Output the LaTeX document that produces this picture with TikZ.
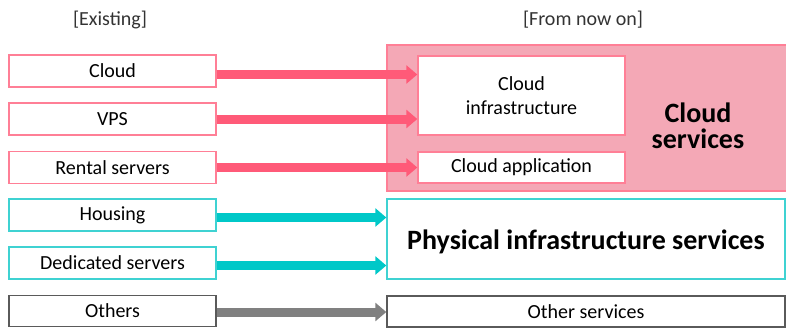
\documentclass[tikz,border=0pt]{standalone}
\usepackage{fontspec}
\setmainfont{Carlito}
\usetikzlibrary{arrows.meta}
\definecolor{pinkarrow}{HTML}{FF5A78}
\definecolor{pinkline}{HTML}{FF7F96}
\definecolor{pinkfill}{HTML}{F4A8B6}
\definecolor{cyanarrow}{HTML}{00C8C8}
\definecolor{cyanline}{HTML}{3FD2D2}
\definecolor{grayarrow}{HTML}{808080}
\definecolor{grayline}{HTML}{5A5A5A}
\definecolor{headtext}{HTML}{333333}
\tikzset{
  oldbox/.style={draw=#1, line width=1.4pt, fill=white, minimum width=207pt, minimum height=32pt, inner sep=0pt, font=\fontsize{20}{24}\selectfont, anchor=center},
  thickarrow/.style={draw=#1, line width=9pt, -{Triangle[length=11pt,width=18pt]}},
  heading/.style={font=\fontsize{20}{24}\selectfont, text=headtext},
}
\begin{document}
\begin{tikzpicture}[x=1pt,y=-1pt]
\clip (0,0) rectangle (786,327);
\fill[white] (0,0) rectangle (786,327);

% headings
\node[heading] (h1) at (110,20) {[Existing]};
\node[heading] (h2) at (583,20) {[From now on]};

% cloud services area
\node[draw=pinkline, fill=pinkfill, line width=1.4pt, minimum width=410pt, minimum height=146pt, inner sep=0pt] (cs) at (592,118) {};
\node[font=\bfseries\fontsize{28}{26}\selectfont, align=center] (cstext) at (698,126) {Cloud\\services};
\node[draw=pinkline, fill=white, line width=1.4pt, minimum width=207pt, minimum height=79pt, inner sep=0pt, font=\fontsize{20}{24}\selectfont, align=center] (cinfra) at (521.5,95.5) {Cloud\\infrastructure};
\node[draw=pinkline, fill=white, line width=1.4pt, minimum width=207pt, minimum height=31pt, inner sep=0pt, font=\fontsize{20}{24}\selectfont] (capp) at (521.5,167.5) {Cloud application};

% physical & others
\node[draw=cyanline, fill=white, line width=1.4pt, minimum width=398pt, minimum height=80pt, inner sep=0pt] (phys) at (586,239) {};
\node[font=\bfseries\fontsize{28}{32}\selectfont] (phystext) at ([yshift=-3pt]phys.center) {Physical infrastructure services};
\node[draw=grayline, fill=white, line width=1.4pt, minimum width=398pt, minimum height=31pt, inner sep=0pt, font=\fontsize{20}{24}\selectfont] (oth) at (586,311.5) {Other services};

% left boxes
\node[oldbox=pinkline] (cloud) at (112.5,71) {Cloud};
\node[oldbox=pinkline] (vps) at (112.5,119) {VPS};
\node[oldbox=pinkline] (rental) at (112.5,167.5) {Rental servers};
\node[oldbox=cyanline] (housing) at (112.5,215) {Housing};
\node[oldbox=cyanline] (dedicated) at (112.5,263) {Dedicated servers};
\node[oldbox=grayline, minimum height=31pt] (others) at (112.5,311) {Others};

% arrows
\draw[thickarrow=pinkarrow] ([yshift=-3.5pt]cloud.east) -- ([yshift=-3.5pt]cloud.east -| cinfra.west);
\draw[thickarrow=pinkarrow] (vps.east) -- (vps.east -| cinfra.west);
\draw[thickarrow=pinkarrow] (rental.east) -- (rental.east -| capp.west);
\draw[thickarrow=cyanarrow] ([yshift=-2.5pt]housing.east) -- ([yshift=-2.5pt]housing.east -| phys.west);
\draw[thickarrow=cyanarrow] ([yshift=-2.5pt]dedicated.east) -- ([yshift=-2.5pt]dedicated.east -| phys.west);
\draw[thickarrow=grayarrow] ([yshift=-1pt]others.east) -- ([yshift=-1pt]others.east -| oth.west);
\end{tikzpicture}
\end{document}
